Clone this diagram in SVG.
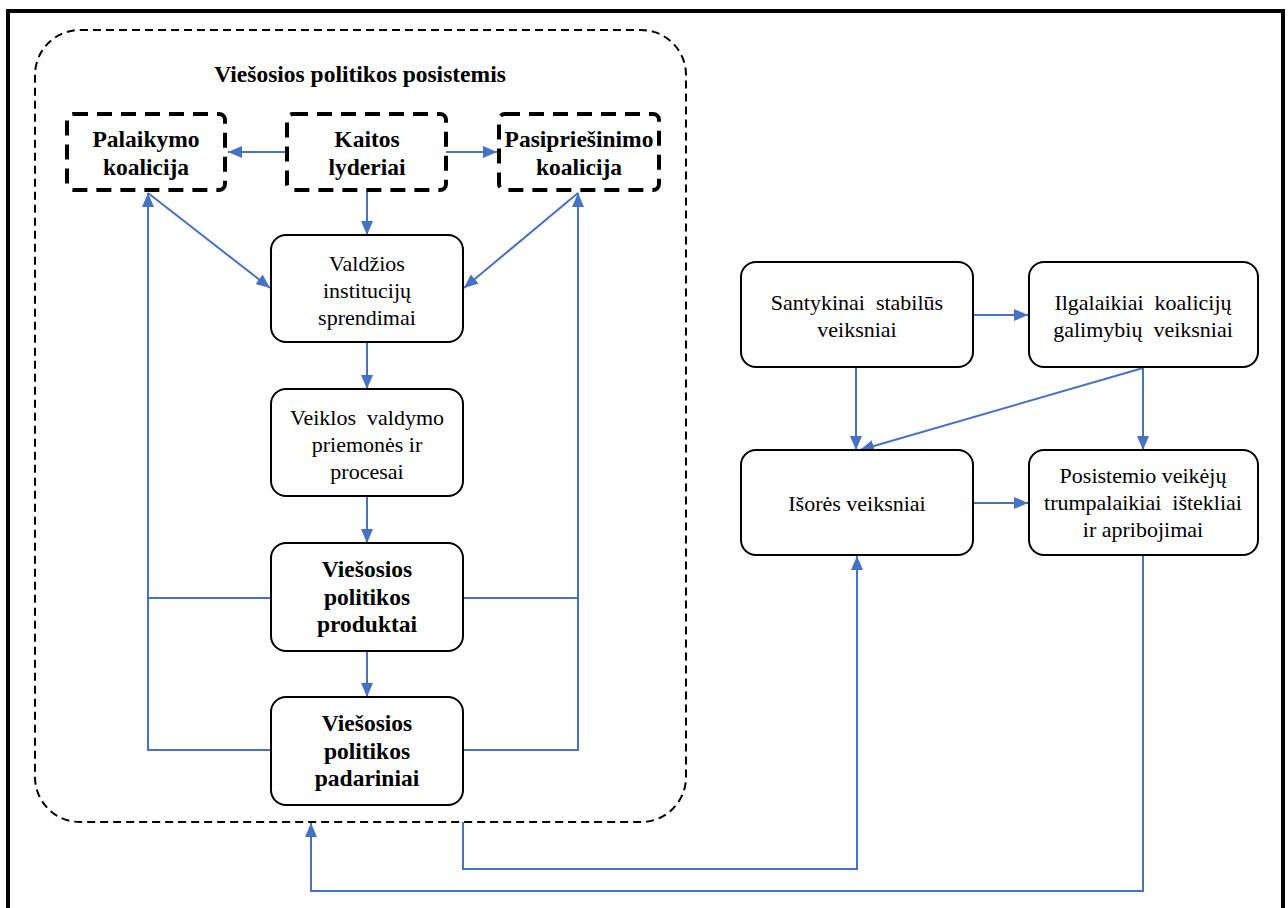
<svg xmlns="http://www.w3.org/2000/svg" width="1288" height="908" viewBox="0 0 1288 908" font-family="'Liberation Serif', 'Times New Roman', Times, 'Noto Serif', 'DejaVu Serif', FreeSerif, Georgia, serif">
  <style>
    .frame { fill: none; stroke: #000; stroke-width: 4; }
    .container { fill: none; stroke: #000; stroke-width: 2; stroke-dasharray: 8 5; }
    .dashbox { fill: #fff; stroke: #000; stroke-width: 4; stroke-dasharray: 15 9; }
    .box { fill: #fff; stroke: #000; stroke-width: 2; }
    .conn { fill: none; stroke: #4472C4; stroke-width: 2; }
    .t { font-family: 'Liberation Serif', 'Times New Roman', Times, 'Noto Serif', 'DejaVu Serif', FreeSerif, Georgia, serif; font-size: 22px; fill: #000; text-anchor: middle; }
    .b { font-weight: bold; font-size: 23.5px; }
  </style>
  <defs>
    <marker id="arrow" markerUnits="userSpaceOnUse" markerWidth="14" markerHeight="12" refX="14" refY="6" orient="auto">
      <path d="M0,0 L14,6 L0,12 z" fill="#4472C4"/>
    </marker>
  </defs>

  <rect width="1288" height="908" fill="#fff"/>
  <!-- page frame -->
  <path class="frame" d="M8,912 L8,11 L1283,11 L1283,912"/>

  <!-- subsystem container -->
  <g id="subsystem">
    <rect class="container" x="35" y="30" width="651" height="792" rx="45" ry="45"/>
    <text class="t b" x="360" y="82">Viešosios politikos posistemis</text>
  </g>

  <!-- connectors -->
  <g id="connectors">
    <line class="conn" x1="287" y1="152" x2="228" y2="152" marker-end="url(#arrow)"/>
    <line class="conn" x1="446" y1="152" x2="497" y2="152" marker-end="url(#arrow)"/>
    <line class="conn" x1="367" y1="191" x2="367" y2="235" marker-end="url(#arrow)"/>
    <line class="conn" x1="148" y1="193" x2="270" y2="288" marker-end="url(#arrow)"/>
    <line class="conn" x1="578" y1="193" x2="464" y2="288" marker-end="url(#arrow)"/>
    <line class="conn" x1="367" y1="342" x2="367" y2="389" marker-end="url(#arrow)"/>
    <line class="conn" x1="367" y1="496" x2="367" y2="543" marker-end="url(#arrow)"/>
    <line class="conn" x1="367" y1="651" x2="367" y2="697" marker-end="url(#arrow)"/>
    <!-- feedback loops -->
    <path class="conn" d="M271,750 L148,750 L148,193" marker-end="url(#arrow)"/>
    <line class="conn" x1="271" y1="598" x2="148" y2="598"/>
    <path class="conn" d="M463,750 L578,750 L578,193" marker-end="url(#arrow)"/>
    <line class="conn" x1="463" y1="598" x2="578" y2="598"/>
    <!-- external factors -->
    <line class="conn" x1="973" y1="315" x2="1028" y2="315" marker-end="url(#arrow)"/>
    <line class="conn" x1="856" y1="367" x2="856" y2="450" marker-end="url(#arrow)"/>
    <line class="conn" x1="1143" y1="368" x2="860" y2="450" marker-end="url(#arrow)"/>
    <line class="conn" x1="1143" y1="367" x2="1143" y2="450" marker-end="url(#arrow)"/>
    <line class="conn" x1="973" y1="503" x2="1028" y2="503" marker-end="url(#arrow)"/>
    <path class="conn" d="M463,822 L463,869 L857,869 L857,556" marker-end="url(#arrow)"/>
    <path class="conn" d="M1143,555 L1143,891 L311,891 L311,823" marker-end="url(#arrow)"/>
  </g>

  <g id="palaikymo">
    <rect class="dashbox" x="67" y="114" width="158" height="76" rx="6" ry="6"/>
    <text class="t b" x="146" y="147">Palaikymo</text>
    <text class="t b" x="146" y="175">koalicija</text>
  </g>
  <g id="kaitos">
    <rect class="dashbox" x="287" y="114" width="159" height="76" rx="6" ry="6"/>
    <text class="t b" x="367" y="147">Kaitos</text>
    <text class="t b" x="367" y="175">lyderiai</text>
  </g>
  <g id="pasipriesinimo">
    <rect class="dashbox" x="499" y="114" width="160" height="76" rx="6" ry="6"/>
    <text class="t b" x="579" y="147">Pasipriešinimo</text>
    <text class="t b" x="579" y="175">koalicija</text>
  </g>

  <g id="valdzios">
    <rect class="box" x="271" y="235" width="192" height="107" rx="15" ry="15"/>
    <text class="t" x="367" y="271">Valdžios</text>
    <text class="t" x="367" y="298">institucijų</text>
    <text class="t" x="367" y="325">sprendimai</text>
  </g>
  <g id="veiklos">
    <rect class="box" x="271" y="389" width="192" height="107" rx="15" ry="15"/>
    <text class="t" x="367" y="425" xml:space="preserve">Veiklos  valdymo</text>
    <text class="t" x="367" y="452">priemonės ir</text>
    <text class="t" x="367" y="479">procesai</text>
  </g>
  <g id="produktai">
    <rect class="box" x="271" y="543" width="192" height="108" rx="15" ry="15"/>
    <text class="t b" x="367" y="577">Viešosios</text>
    <text class="t b" x="367" y="605">politikos</text>
    <text class="t b" x="367" y="632">produktai</text>
  </g>
  <g id="padariniai">
    <rect class="box" x="271" y="697" width="192" height="108" rx="15" ry="15"/>
    <text class="t b" x="367" y="731">Viešosios</text>
    <text class="t b" x="367" y="759">politikos</text>
    <text class="t b" x="367" y="786">padariniai</text>
  </g>

  <g id="santykinai">
    <rect class="box" x="741" y="262" width="232" height="105" rx="15" ry="15"/>
    <text class="t" x="857" y="310" xml:space="preserve">Santykinai  stabilūs</text>
    <text class="t" x="857" y="337">veiksniai</text>
  </g>
  <g id="ilgalaikiai">
    <rect class="box" x="1029" y="262" width="229" height="105" rx="15" ry="15"/>
    <text class="t" x="1143" y="310" xml:space="preserve">Ilgalaikiai  koalicijų</text>
    <text class="t" x="1143" y="337" xml:space="preserve">galimybių  veiksniai</text>
  </g>
  <g id="isores">
    <rect class="box" x="741" y="450" width="232" height="105" rx="15" ry="15"/>
    <text class="t" x="857" y="511">Išorės veiksniai</text>
  </g>
  <g id="posistemio">
    <rect class="box" x="1029" y="450" width="229" height="105" rx="15" ry="15"/>
    <text class="t" x="1143" y="483">Posistemio veikėjų</text>
    <text class="t" x="1143" y="510" xml:space="preserve">trumpalaikiai  ištekliai</text>
    <text class="t" x="1143" y="537">ir apribojimai</text>
  </g>
</svg>
